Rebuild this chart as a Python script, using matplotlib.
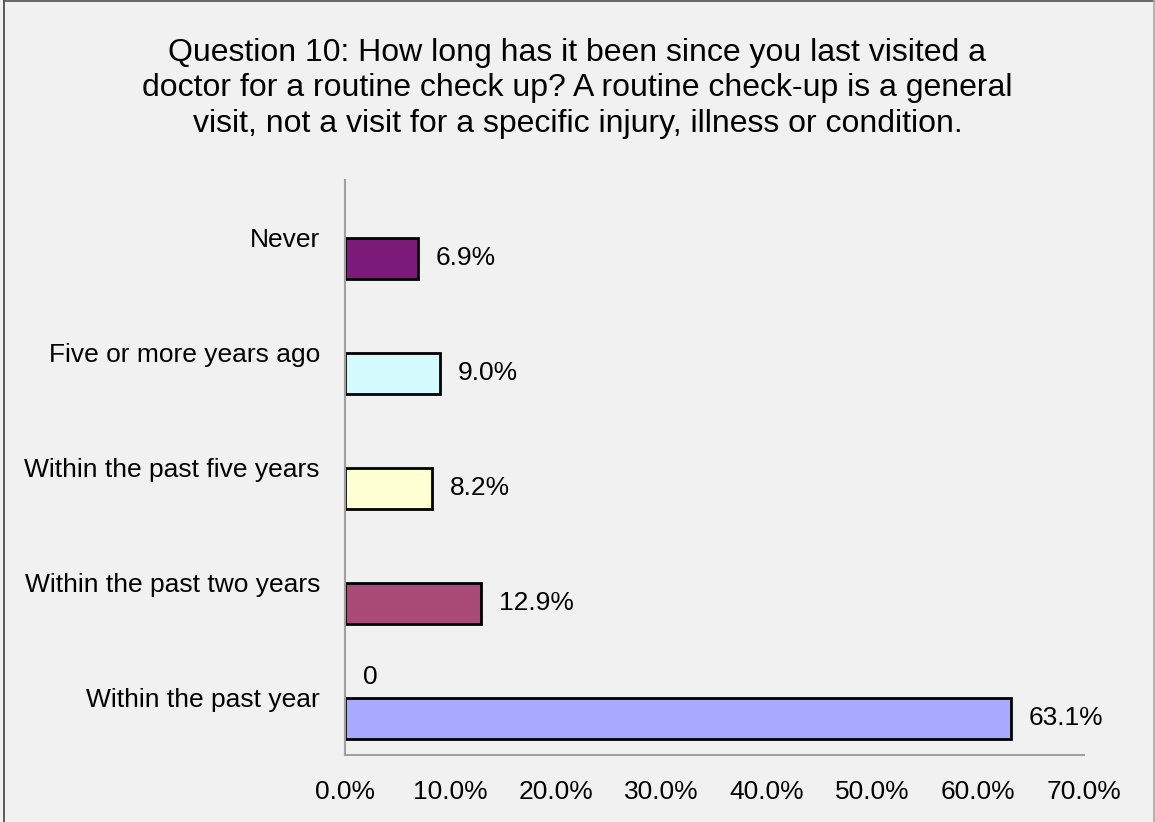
import matplotlib
matplotlib.use("Agg")
import matplotlib.pyplot as plt
from matplotlib.lines import Line2D
import numpy as np

plt.rcParams['font.family'] = ['Liberation Sans', 'DejaVu Sans']

title = ("Question 10: How long has it been since you last visited a\n"
         "doctor for a routine check up? A routine check-up is a general\n"
         "visit, not a visit for a specific injury, illness or condition.")
categories = ["Never", "Five or more years ago", "Within the past five years",
              "Within the past two years", "Within the past year"]
values = [6.9, 9.0, 8.2, 12.9, 63.1]
value_labels = ["6.9%", "9.0%", "8.2%", "12.9%", "63.1%"]
zero_series = [0, 0, 0, 0, 0]
zero_labels = ["", "", "", "", "0"]
colors = ["#7B1A78", "#D4FCFF", "#FFFFD4", "#A94A77", "#A9A9FF"]
xticks = [0, 10, 20, 30, 40, 50, 60, 70]
xticklabels = ["0.0%", "10.0%", "20.0%", "30.0%", "40.0%", "50.0%", "60.0%", "70.0%"]

W, H = 1155, 822
bg = "#F1F1F1"
fig = plt.figure(figsize=(W/100, H/100), dpi=100, facecolor=bg)
ax = fig.add_axes([345/W, 1-755/H, (1083.5-345)/W, (755-180)/H])
ax.set_facecolor(bg)

h = 0.365
y = np.arange(len(categories))
ax.barh(y + h/2, values, height=h, color=colors, edgecolor="black", linewidth=2)
ax.barh(y - h/2, zero_series, height=h, color="none", edgecolor="none")

for yi, v, lab in zip(y, values, value_labels):
    ax.annotate(lab, (v, yi + h/2), xytext=(13, 0), textcoords="offset points",
                ha="left", va="center", fontsize=19)
for yi, v, lab in zip(y, zero_series, zero_labels):
    if lab:
        ax.annotate(lab, (v, yi - h/2), xytext=(13, 0), textcoords="offset points",
                    ha="left", va="center", fontsize=19)

ax.set_ylim(len(categories) - 0.5, -0.5)
ax.set_xlim(0, 70)
ax.set_yticks(y)
ax.set_yticklabels(categories, fontsize=19)
ax.set_xticks(xticks)
ax.set_xticklabels(xticklabels, fontsize=19)
ax.tick_params(axis="y", length=0, pad=18)
ax.tick_params(axis="x", length=0, pad=18)
for s in ["top", "right"]:
    ax.spines[s].set_visible(False)
for s in ["left", "bottom"]:
    ax.spines[s].set_color("#A0A0A0")
    ax.spines[s].set_linewidth(1.5)

fig.text(0.5, 1 - 132/H, title, ha="center", va="baseline", fontsize=23,
         linespacing=1.25)

# chart-area border: left and top dark, right light, no bottom
fig.add_artist(Line2D([3.5/W, 3.5/W], [0, 1 - 1.5/H], transform=fig.transFigure,
                      color="#404040", linewidth=1.2))
fig.add_artist(Line2D([3.5/W, 1153.5/W], [1 - 1.5/H, 1 - 1.5/H],
                      transform=fig.transFigure, color="#505050", linewidth=1.2))
fig.add_artist(Line2D([1153.5/W, 1153.5/W], [0, 1 - 1.5/H], transform=fig.transFigure,
                      color="#A8A8A8", linewidth=1.2))

fig.savefig("out.png", dpi=100, facecolor=bg)
